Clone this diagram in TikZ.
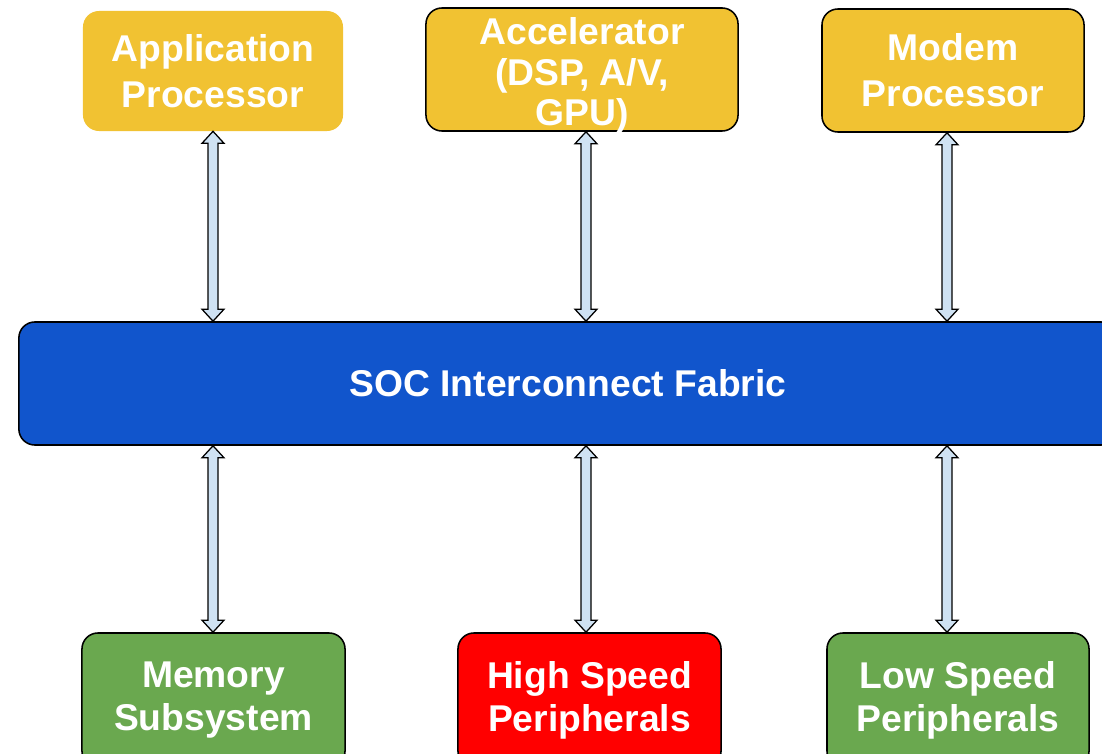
\documentclass[tikz,border=0pt]{standalone}
\usepackage{fontspec}
\setmainfont{Liberation Sans}
\usetikzlibrary{calc}

\definecolor{procyellow}{HTML}{F1C232}
\definecolor{fabricblue}{HTML}{1155CC}
\definecolor{periphgreen}{HTML}{6AA84F}
\definecolor{periphred}{HTML}{FF0000}
\definecolor{linkblue}{HTML}{CFE2F3}

\tikzset{
  boxtext/.style={align=center, text=white, inner sep=0pt,
    font=\bfseries\fontsize{26.5}{#1}\selectfont},
  boxtext/.default=32.5pt,
  block/.style={boxtext=#1, rounded corners=0.4cm, minimum height=3.075cm},
  block/.default=32.5pt,
  outlined/.style={block=#1, draw=black, line width=1.1pt},
  outlined/.default=32.5pt,
  link/.style={fill=linkblue, draw=black, line width=0.9pt, line join=miter},
}

% two-headed block arrow between two points on the same column
\newcommand{\busarrow}[2]{%
  \draw[link] let \p1=(#1), \p2=(#2) in
    (\x1,\y1) -- (\x1-0.275cm,\y1-0.3cm) -- (\x1-0.125cm,\y1-0.3cm)
    -- (\x1-0.125cm,\y2+0.3cm) -- (\x1-0.275cm,\y2+0.3cm) -- (\x1,\y2)
    -- (\x1+0.275cm,\y2+0.3cm) -- (\x1+0.125cm,\y2+0.3cm)
    -- (\x1+0.125cm,\y1-0.3cm) -- (\x1+0.275cm,\y1-0.3cm) -- cycle;}

\begin{document}
\begin{tikzpicture}[x=0.025cm, y=-0.025cm]

    \useasboundingbox (0,0) rectangle (1102,754);

    % Processors
    \node[block, fill=procyellow, minimum width=6.5cm, minimum height=3cm] (app) at (213,71)
        {Application\\Processor};
    \node[outlined, fill=procyellow, minimum width=7.8cm] (accel) at (582,69.5) {};
    \node[boxtext=29pt] (acceltext) at ([yshift=-0.15cm]accel.center)
        {Accelerator\\(DSP, A/V,\\GPU)};
    \node[outlined, fill=procyellow, minimum width=6.55cm] (modem) at (953,70.5)
        {Modem\\Processor};

    % Interconnect
    \node[outlined, fill=fabricblue, minimum width=27.45cm] (soc) at (568,383.5)
        {SOC Interconnect Fabric};

    % Memory and peripherals (cut off by the page bottom)
    \node[outlined=30.5pt, fill=periphgreen, minimum width=6.575cm, minimum height=3.35cm] (mem)
        at (213.5,700) {Memory\\Subsystem};
    \node[outlined=30.5pt, fill=periphred, minimum width=6.575cm, minimum height=3.35cm] (hsp)
        at (589.5,700) {High Speed\\Peripherals};
    \node[outlined=30.5pt, fill=periphgreen, minimum width=6.55cm, minimum height=3.35cm] (lsp)
        at (958,700) {Low Speed\\Peripherals};

    % Arrow columns
    \coordinate (colA) at (213,0);
    \coordinate (colB) at (586,0);
    \coordinate (colC) at (947,0);

    % Links to the fabric
    \busarrow{app.south -| colA}{soc.north -| colA}
    \busarrow{accel.south -| colB}{soc.north -| colB}
    \busarrow{modem.south -| colC}{soc.north -| colC}

    \busarrow{soc.south -| colA}{mem.north -| colA}
    \busarrow{soc.south -| colB}{hsp.north -| colB}
    \busarrow{soc.south -| colC}{lsp.north -| colC}

\end{tikzpicture}
\end{document}
